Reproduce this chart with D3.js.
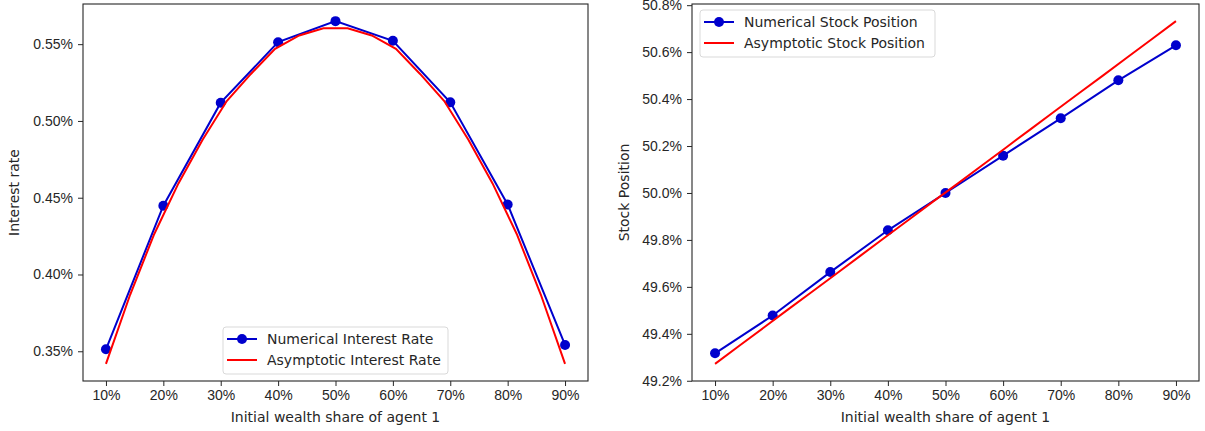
<!DOCTYPE html>
<html>
<head>
<meta charset="utf-8">
<script src="https://cdn.jsdelivr.net/npm/d3@7"></script>
<style>
 body{margin:0;background:#fff;}
 svg{display:block;font-family:"DejaVu Sans",sans-serif;}
 .tick text{fill:#262626;font-size:14px;}
 .domain,.tick line{stroke:#262626;}
</style>
</head>
<body>
<div id="chartDiv"></div>
<script>
//Data (values in percent)
var shares = [10,20,30,40,50,60,70,80,90];				//initial wealth share of agent 1
var fineShares = [10,14.21,18.42,22.63,26.84,31.05,35.26,39.47,43.68,47.89,
                  52.11,56.32,60.53,64.74,68.95,73.16,77.37,81.58,85.79,90];
var numRate = [0.3513,0.4448,0.5119,0.5513,0.5650,0.5522,0.5121,0.4456,0.3541];
var asyRate = [0.3418,0.3868,0.4264,0.4593,0.4878,0.5130,0.5306,0.5470,0.5557,0.5604,
               0.5604,0.5557,0.5470,0.5306,0.5130,0.4878,0.4593,0.4264,0.3868,0.3418];
var numStock = [49.317,49.478,49.663,49.841,50.000,50.159,50.318,50.480,50.629];
var asyStock = [49.272,49.349,49.426,49.503,49.579,49.656,49.733,49.810,49.887,49.964,
                50.040,50.117,50.194,50.271,50.348,50.425,50.501,50.578,50.655,50.732];
var xTicks = [10,20,30,40,50,60,70,80,90];
var rateTicks = [0.35,0.40,0.45,0.50,0.55];
var stockTicks = [49.2,49.4,49.6,49.8,50.0,50.2,50.4,50.6,50.8];

var BLUE = "#0000cd", RED = "#ff0000";

var svg = d3.select("#chartDiv").append("svg")
 .attr("width",1205).attr("height",431);

function pad(vals){					//matplotlib style 5% margin
 var lo = d3.min(vals), hi = d3.max(vals), s = hi-lo;
 return [lo - s*0.05, hi + s*0.05];
}

function drawPanel(p){
 var x = d3.scaleLinear().domain(pad(shares)).range([p.left,p.right]);
 var y = d3.scaleLinear().domain(pad(p.num.concat(p.asy))).range([p.bottom,p.top]);
 var g = svg.append("g");

 var lineA = d3.line().x(function(d,i){return x(fineShares[i]);}).y(function(d){return y(d);});
 var lineN = d3.line().x(function(d,i){return x(shares[i]);}).y(function(d){return y(d);});

 g.append("path").datum(p.num)			//numerical line
  .attr("d",lineN).attr("fill","none").attr("stroke",BLUE).attr("stroke-width",2);
 g.selectAll(".dot").data(p.num).enter().append("circle")
  .attr("cx",function(d,i){return x(shares[i]);})
  .attr("cy",function(d){return y(d);})
  .attr("r",5).attr("fill",BLUE);
 g.append("path").datum(p.asy)			//asymptotic line on top
  .attr("d",lineA).attr("fill","none").attr("stroke",RED).attr("stroke-width",2);

 g.append("rect")				//frame
  .attr("x",p.left).attr("y",p.top)
  .attr("width",p.right-p.left).attr("height",p.bottom-p.top)
  .attr("fill","none").attr("stroke","#262626").attr("stroke-width",1.1);

 g.append("g").attr("transform","translate(0,"+p.bottom+")")
  .call(d3.axisBottom(x).tickValues(xTicks).tickSize(5).tickPadding(4)
   .tickFormat(function(d){return d+"%";}))
  .call(function(a){a.select(".domain").remove();});
 g.append("g").attr("transform","translate("+p.left+",0)")
  .call(d3.axisLeft(y).tickValues(p.ticks).tickSize(5).tickPadding(5)
   .tickFormat(p.fmt))
  .call(function(a){a.select(".domain").remove();});

 g.append("text")				//x label
  .attr("x",(p.left+p.right)/2).attr("y",422)
  .attr("text-anchor","middle").style("font-size","14px").attr("fill","#262626")
  .text("Initial wealth share of agent 1");
 g.append("text")				//y label
  .attr("transform","translate("+p.ylabX+","+((p.top+p.bottom)/2)+")rotate(-90)")
  .attr("text-anchor","middle").style("font-size","14px").attr("fill","#262626")
  .text(p.ylabel);

 //Legend
 var L = p.legend;
 var lg = g.append("g");
 lg.append("rect").attr("x",L.x).attr("y",L.y).attr("width",L.w).attr("height",47)
  .attr("rx",3).attr("fill","#fff").attr("fill-opacity",0.8)
  .attr("stroke","#d9d9d9").attr("stroke-width",1);
 lg.append("line").attr("x1",L.x+4).attr("x2",L.x+34).attr("y1",L.y+12).attr("y2",L.y+12)
  .attr("stroke",BLUE).attr("stroke-width",2);
 lg.append("circle").attr("cx",L.x+19).attr("cy",L.y+12).attr("r",5).attr("fill",BLUE);
 lg.append("line").attr("x1",L.x+4).attr("x2",L.x+34).attr("y1",L.y+33).attr("y2",L.y+33)
  .attr("stroke",RED).attr("stroke-width",2);
 lg.append("text").attr("x",L.x+44).attr("y",L.y+17).style("font-size","14px")
  .attr("fill","#262626").text(p.labels[0]);
 lg.append("text").attr("x",L.x+44).attr("y",L.y+38).style("font-size","14px")
  .attr("fill","#262626").text(p.labels[1]);
}

drawPanel({left:83,right:588,top:4,bottom:381,num:numRate,asy:asyRate,
 ticks:rateTicks,fmt:function(d){return d.toFixed(2)+"%";},
 ylabel:"Interest rate",ylabX:19,
 legend:{x:223,y:327,w:225},
 labels:["Numerical Interest Rate","Asymptotic Interest Rate"]});

drawPanel({left:692,right:1199,top:4,bottom:381,num:numStock,asy:asyStock,
 ticks:stockTicks,fmt:function(d){return d.toFixed(1)+"%";},
 ylabel:"Stock Position",ylabX:629,
 legend:{x:700,y:10,w:235},
 labels:["Numerical Stock Position","Asymptotic Stock Position"]});
</script>
</body>
</html>
